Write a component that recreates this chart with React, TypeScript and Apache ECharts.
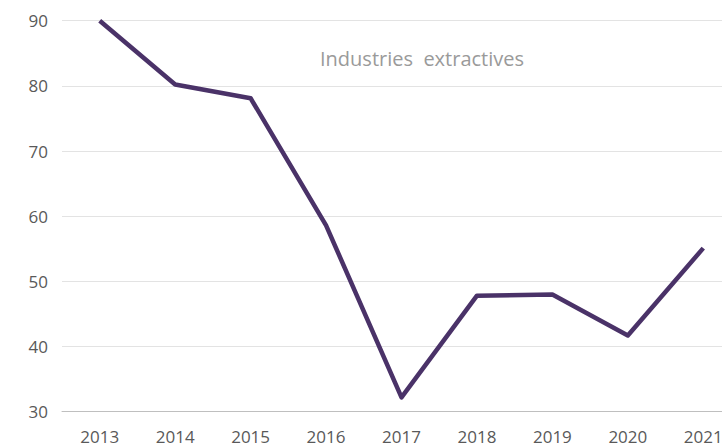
import React, { useEffect, useRef } from "react";
import * as echarts from "echarts";

const years = ["2013", "2014", "2015", "2016", "2017", "2018", "2019", "2020", "2021"];
const values = [90.0, 80.2, 78.1, 58.6, 32.2, 47.8, 48.0, 41.7, 55.1];
const titleText = "Industries  extractives";

export default function App() {
  const ref = useRef<HTMLDivElement>(null);
  useEffect(() => {
    if (!ref.current) return;
    const chart = echarts.init(ref.current, undefined, { renderer: "svg" });
    chart.setOption({
      animation: false,
      backgroundColor: "#ffffff",
      title: {
        text: titleText,
        left: 417,
        top: 43,
        textAlign: "center",
        textStyle: {
          fontFamily: "Open Sans",
          fontSize: 20,
          fontWeight: "normal",
          color: "#9a9a9a",
        },
      },
      grid: {
        left: 62,
        top: 20.7,
        width: 679,
        height: 391,
        containLabel: false,
        outerBoundsMode: "none",
      },
      xAxis: {
        type: "category",
        data: years,
        boundaryGap: true,
        axisLine: { show: true, lineStyle: { color: "#bfbfbf", width: 1 } },
        axisTick: { show: false },
        axisLabel: {
          color: "#595959",
          fontFamily: "Open Sans",
          fontSize: 17,
          margin: 16,
        },
      },
      yAxis: {
        type: "value",
        min: 30,
        max: 90,
        interval: 10,
        axisLine: { show: false },
        axisTick: { show: false },
        splitLine: { lineStyle: { color: "#e3e3e3", width: 1 } },
        axisLabel: {
          color: "#595959",
          fontFamily: "Open Sans",
          fontSize: 17,
          margin: 14,
        },
      },
      series: [
        {
          type: "line",
          data: values,
          symbol: "none",
          lineStyle: { color: "#4a3268", width: 4.5, join: "round" },
          clip: false,
        },
      ],
    });
    return () => chart.dispose();
  }, []);
  return (
    <div
      ref={ref}
      style={{ position: "fixed", left: 0, top: 0, width: 722, height: 443 }}
    />
  );
}
